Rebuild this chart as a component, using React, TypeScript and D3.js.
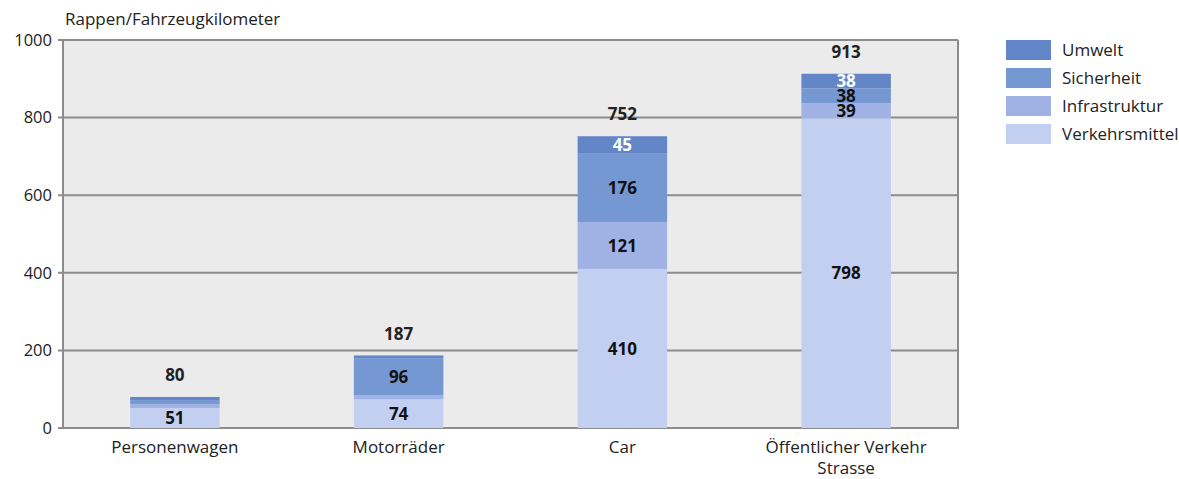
import React from "react";
import * as d3 from "d3";

const categories = ["Personenwagen", "Motorräder", "Car", "Öffentlicher Verkehr\nStrasse"];
const seriesNames = ["Verkehrsmittel", "Infrastruktur", "Sicherheit", "Umwelt"];
const verkehrsmittel = [51, 74, 410, 798];
const infrastruktur = [11, 10, 121, 39];
const sicherheit = [10, 96, 176, 38];
const umwelt = [8, 7, 45, 38];
const totals = [80, 187, 752, 913];
const yTicks = [0, 200, 400, 600, 800, 1000];
const colors = ["#c3cff0", "#9fb2e3", "#7597d2", "#6386c8"];
const labelColors = ["#111", "#111", "#111", "#fff"];

const W = 1179, H = 479;
const M = { left: 63, right: 958, top: 40, bottom: 428 };
const FONT = "'Open Sans', 'DejaVu Sans', sans-serif";

export default function App() {
  const x = d3.scaleBand().domain(categories).range([M.left, M.right]).paddingInner(0.6).paddingOuter(0.3);
  const y = d3.scaleLinear().domain([0, 1000]).range([M.bottom, M.top]);
  const rows = categories.map((c, i) => ({
    cat: c,
    Verkehrsmittel: verkehrsmittel[i],
    Infrastruktur: infrastruktur[i],
    Sicherheit: sicherheit[i],
    Umwelt: umwelt[i],
  }));
  const stacked = d3.stack<any>().keys(seriesNames)(rows);

  return (
    <svg width={W} height={H} style={{ position: "absolute", left: 0, top: 0 }} fontFamily={FONT}>
      <rect x={M.left} y={M.top} width={M.right - M.left} height={M.bottom - M.top} fill="#ebebeb" />
      {yTicks.map((t) => (
        <g key={t}>
          <line x1={M.left - 5} x2={M.right} y1={y(t)} y2={y(t)} stroke="#8c8c8c" strokeWidth={2} />
          <text x={52} y={y(t)} dy="0.35em" textAnchor="end" fontSize={16.5} fill="#222">{t}</text>
        </g>
      ))}
      <line x1={M.left} x2={M.left} y1={M.top} y2={M.bottom + 1} stroke="#8c8c8c" strokeWidth={2} />
      <line x1={M.right} x2={M.right} y1={M.top} y2={M.bottom + 1} stroke="#8c8c8c" strokeWidth={2} />
      <text x={65} y={25} fontSize={17} fill="#222">Rappen/Fahrzeugkilometer</text>
      {stacked.map((s, si) => (
        <g key={s.key}>
          {s.map((d, i) => (
            <rect key={i} x={x(categories[i])} width={x.bandwidth()} y={y(d[1])} height={y(d[0]) - y(d[1])} fill={colors[si]} />
          ))}
          {s.map((d, i) => {
            const v = d[1] - d[0];
            if (v < 20) return null;
            return (
              <text key={"t" + i} x={(x(categories[i]) as number) + x.bandwidth() / 2} y={y((d[0] + d[1]) / 2)} dy="0.36em"
                textAnchor="middle" fontSize={17} fontWeight="bold" fill={labelColors[si]}>{v}</text>
            );
          })}
        </g>
      ))}
      {totals.map((t, i) => (
        <text key={i} x={(x(categories[i]) as number) + x.bandwidth() / 2} y={y(t) - 22} dy="0.36em" textAnchor="middle"
          fontSize={17} fontWeight="bold" fill="#222">{t}</text>
      ))}
      {categories.map((c, i) => (
        <text key={c} x={(x(c) as number) + x.bandwidth() / 2} y={453} textAnchor="middle" fontSize={17} fill="#222">
          {c.split("\n").map((l, j) => (
            <tspan key={j} x={(x(c) as number) + x.bandwidth() / 2} dy={j === 0 ? 0 : 21}>{l}</tspan>
          ))}
        </text>
      ))}
      {seriesNames.slice().reverse().map((n, j) => {
        const si = seriesNames.length - 1 - j;
        return (
          <g key={n} transform={`translate(1006, ${40 + j * 28})`}>
            <rect width={45} height={20} fill={colors[si]} />
            <text x={56} y={10} dy="0.35em" fontSize={17} fill="#222">{n}</text>
          </g>
        );
      })}
    </svg>
  );
}
